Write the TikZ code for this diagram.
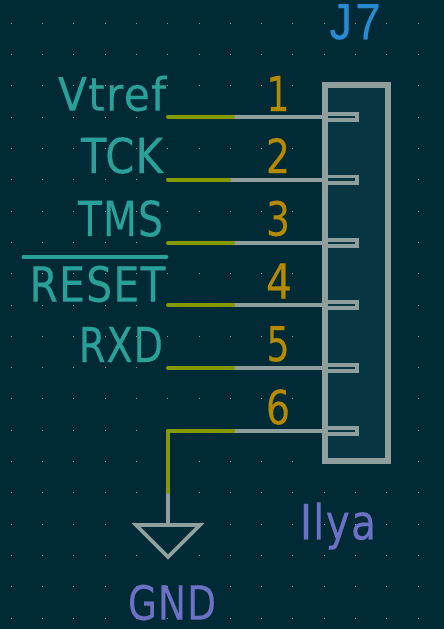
\documentclass[tikz,border=0pt]{standalone}
\usepackage{fontspec}
\setmainfont[LetterSpace=3,FakeBold=0.25]{DejaVu Sans}
\newfontfamily\jfont[LetterSpace=8,FakeBold=0.25]{Liberation Sans}
\definecolor{bgc}{HTML}{002B36}
\definecolor{bodyc}{HTML}{073642}
\definecolor{linec}{HTML}{8F9F9E}
\definecolor{wirec}{HTML}{859900}
\definecolor{netc}{HTML}{2AA198}
\definecolor{numc}{HTML}{B58900}
\definecolor{refc}{HTML}{268BD2}
\definecolor{valc}{HTML}{6C71C4}
\newcommand{\fitbox}[3]{\resizebox{#1pt}{#2pt}{#3}}
\tikzset{
  x=1pt,y=-1pt,
  lab/.style={inner sep=0pt,outer sep=0pt,anchor=center},
  netlab/.style={lab,text=netc},
  numlab/.style={lab,text=numc},
  wireln/.style={draw=wirec,line width=4pt,line cap=round,line join=round},
  pinln/.style={draw=linec,line width=4pt},
  stub/.style={draw=linec,line width=3.6pt},
  bodybox/.style={draw=linec,fill=bodyc,line width=6pt,miter limit=10},
  gndsym/.style={draw=linec,line width=3.6pt,line join=miter},
}
\begin{document}
\begin{tikzpicture}
\useasboundingbox (0,0) rectangle (444,629);
\fill[bgc] (0,0) rectangle (444,629);
% grid
\foreach \i in {0,...,13}{\foreach \j in {0,...,19}{
  \fill[linec] ({11.2+31.3*\i-0.5},{23.3+31.3*\j-0.5}) rectangle +(1,1);
}}
% body
\node[bodybox,inner sep=0pt,outer sep=0pt,minimum width=63pt,minimum height=376pt,anchor=north west] (body) at (325,85) {};
% wires and pins
\foreach \n/\y/\g in {1/116.8/233,2/179.6/229,3/242.8/233,4/305/233,5/368/233,6/431/233}{
  \coordinate (w\n) at (168,\y);
  \coordinate (m\n) at (\g,\y);
  \coordinate (p\n) at (325,\y);
  \draw[pinln] (m\n) -- (p\n);
  \draw[stub] (325,\y-3.1) -- (357.2,\y-3.1) -- (357.2,\y+3.1) -- (325,\y+3.1);
  \draw[wireln] (w\n) -- (m\n);
}
% ground
\coordinate (gt) at (168,525);
\coordinate (gm) at (168,492);
\draw[pinln] (gm) -- (gt);
\draw[wireln] (m6) -- (w6) -- (gm);
\draw[gndsym] (136,525) -- (200,525) -- (168,557) -- cycle;
% labels
\node[netlab] (vtref) at (112,93.5) {\fitbox{108}{35}{Vtref}};
\node[netlab] (tck) at (122,155.5) {\fitbox{82}{36}{TCK}};
\node[netlab] (tms) at (120.5,218.5) {\fitbox{85}{36}{TMS}};
\node[netlab] (reset) at (97.5,284) {\fitbox{136}{36}{RESET}};
\node[netlab] (rxd) at (121,344.5) {\fitbox{84}{35}{RXD}};
\draw[netc,line width=3.6pt,line cap=round] (23.5,257) -- (166.5,257);
\foreach \n/\y/\t/\w/\x in {1/93.5/1/23/278,2/155.5/2/24/278,3/218.5/3/24/278,4/281/4/26/279,5/344/5/23/278,6/407/6/24/278}{
  \node[numlab] (n\n) at (\x,\y) {\fitbox{\w}{35}{\t}};
}
\node[lab,text=refc] (ref) at (355,22) {\fitbox{51}{35}{\jfont J7}};
\node[lab,text=valc] (val) at (338,526) {\fitbox{76}{37}{Ilya}};
\node[lab,text=valc] (gnd) at (172,602.5) {\fitbox{88}{35}{GND}};
\end{tikzpicture}
\end{document}
